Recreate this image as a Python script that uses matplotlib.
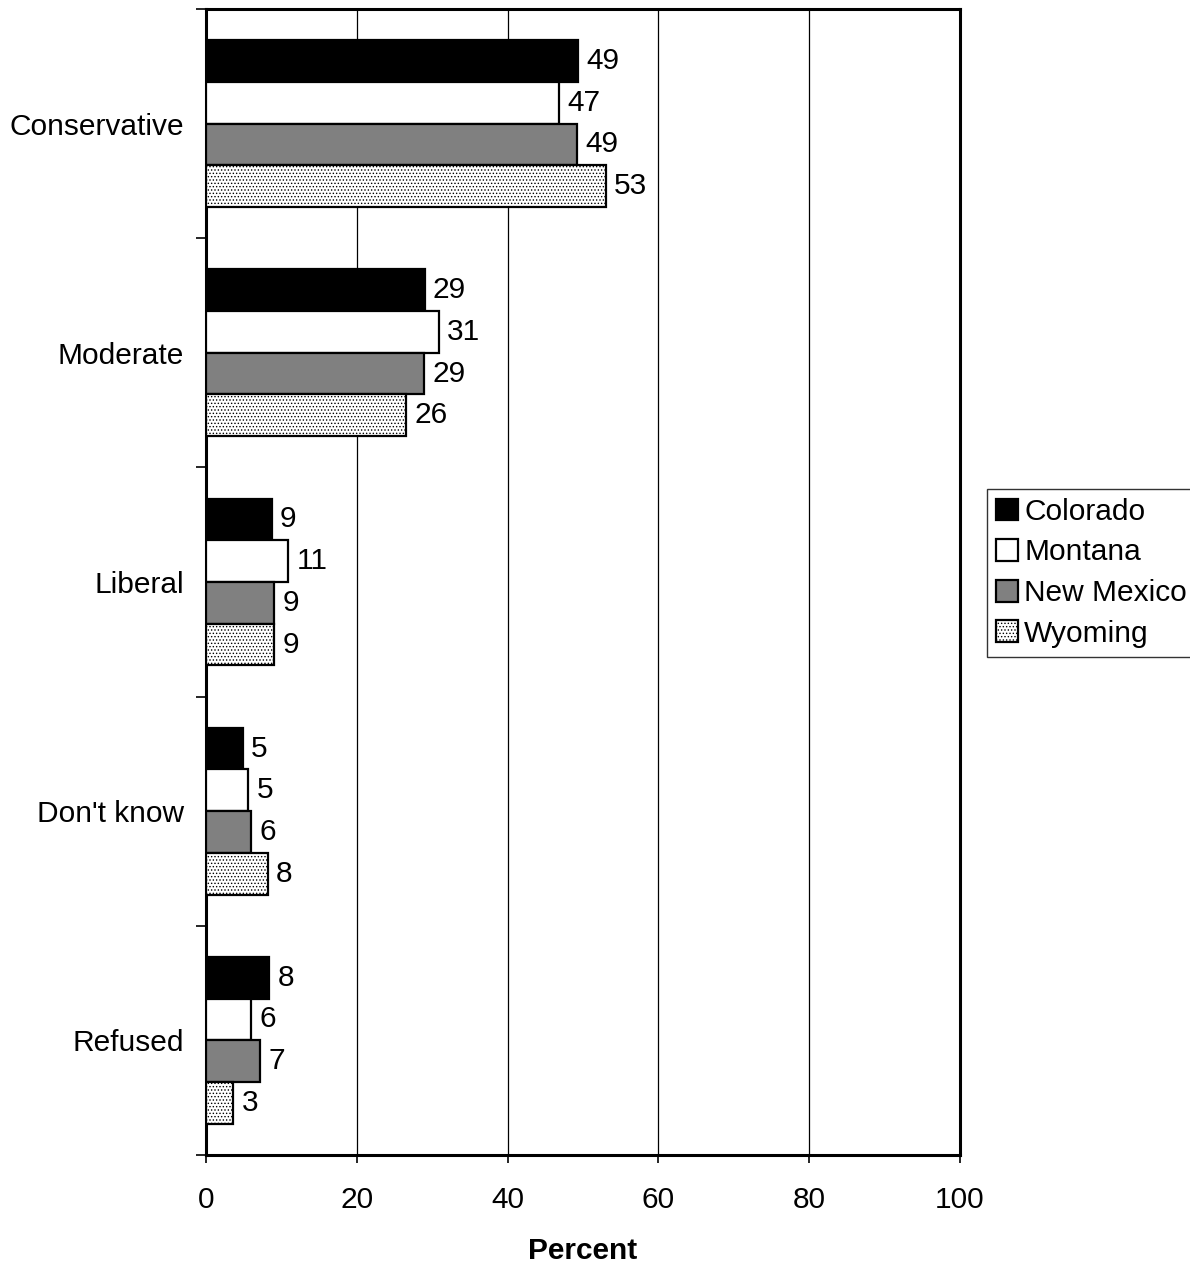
import matplotlib
matplotlib.use("Agg")

import matplotlib.pyplot as plt
import numpy as np

plt.rcParams["font.family"] = ["Liberation Sans", "DejaVu Sans"]
plt.rcParams["hatch.linewidth"] = 0.6
plt.rcParams["hatch.color"] = "#444444"

categories = ["Conservative", "Moderate", "Liberal", "Don't know", "Refused"]
states = ["Colorado", "Montana", "New Mexico", "Wyoming"]

colorado = [49.3, 29.0, 8.7, 4.9, 8.4]
montana = [46.8, 30.9, 10.9, 5.6, 6.0]
new_mexico = [49.2, 28.9, 9.0, 6.0, 7.2]
wyoming = [53.0, 26.5, 9.0, 8.2, 3.6]

colorado_labels = ["49", "29", "9", "5", "8"]
montana_labels = ["47", "31", "11", "5", "6"]
new_mexico_labels = ["49", "29", "9", "6", "7"]
wyoming_labels = ["53", "26", "9", "8", "3"]

series = [colorado, montana, new_mexico, wyoming]
labels = [colorado_labels, montana_labels, new_mexico_labels, wyoming_labels]
faces = ["black", "white", "#808080", "white"]
hatches = [None, None, None, "....."]

FS = 21.5

fig = plt.figure(figsize=(11.9, 12.65), dpi=100)
ax = fig.add_axes([0.1731, 0.0870, 0.6336, 0.9059])

y = np.arange(len(categories))
h = 0.182

for i, (vals, labs) in enumerate(zip(series, labels)):
    pos = y - 1.5 * h + i * h
    bars = ax.barh(
        pos,
        vals,
        height=h,
        color=faces[i],
        edgecolor="black",
        linewidth=1.6,
        hatch=hatches[i],
        label=states[i],
        zorder=3,
    )
    ax.bar_label(bars, labels=labs, padding=6, fontsize=FS)

ax.set_xlim(0, 100)
ax.set_ylim(len(categories) - 0.5, -0.5)
ax.set_xticks([0, 20, 40, 60, 80, 100])
ax.tick_params(axis="x", labelsize=FS, length=6, width=1.2, pad=16)

ax.set_yticks(y)
ax.set_yticklabels(categories, fontsize=FS)
ax.tick_params(axis="y", which="major", length=0, pad=16)
ax.set_yticks(np.arange(len(categories) + 1) - 0.5, minor=True)
ax.tick_params(axis="y", which="minor", length=7, width=1.2)

ax.xaxis.grid(True, color="black", linewidth=0.9, zorder=0)
ax.set_axisbelow(True)
for s in ax.spines.values():
    s.set_linewidth(2.2)

ax.set_xlabel("Percent", fontsize=FS, fontweight="bold", labelpad=17)

leg = fig.legend(
    loc="upper left",
    bbox_to_anchor=(987 / 1190, 1 - 489 / 1265),
    fontsize=FS,
    frameon=True,
    fancybox=False,
    edgecolor="black",
    handlelength=0.75,
    handleheight=0.75,
    handletextpad=0.2,
    labelspacing=0.42,
    borderpad=0.3,
    borderaxespad=0,
)
leg.get_frame().set_linewidth(1.0)

fig.savefig("out.png", dpi=100, facecolor="white")
